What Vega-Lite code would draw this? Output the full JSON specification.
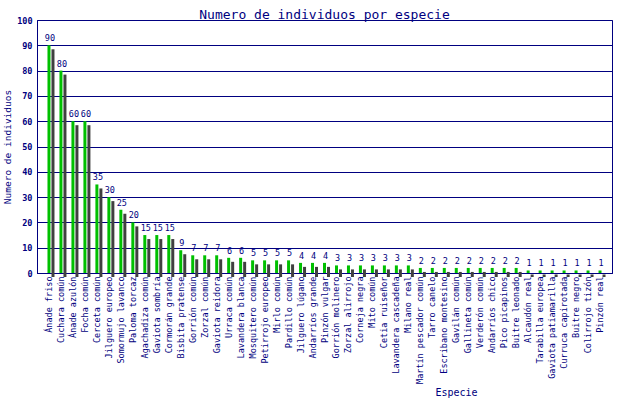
{
  "$schema": "https://vega.github.io/schema/vega-lite/v6.json",
  "width": 575,
  "height": 253,
  "autosize": {"type": "none"},
  "padding": {"left": 37, "top": 20, "right": 28, "bottom": 127},
  "background": "white",
  "title": {
    "text": "Numero de individuos por especie",
    "font": "DejaVu Sans Mono",
    "fontSize": 13,
    "fontWeight": "normal",
    "color": "#000080",
    "anchor": "middle",
    "offset": 0,
    "dy": 6
  },
  "data": {
    "values": [
      {"especie": "Ánade friso", "n": 90},
      {"especie": "Cuchara común", "n": 80},
      {"especie": "Ánade azulón", "n": 60},
      {"especie": "Focha común", "n": 60},
      {"especie": "Cerceta común", "n": 35},
      {"especie": "Jilguero europeo", "n": 30},
      {"especie": "Somormujo lavanco", "n": 25},
      {"especie": "Paloma torcaz", "n": 20},
      {"especie": "Agachadiza común", "n": 15},
      {"especie": "Gaviota sombría", "n": 15},
      {"especie": "Cormorán grande", "n": 15},
      {"especie": "Bisbita pratense", "n": 9},
      {"especie": "Gorrión común", "n": 7},
      {"especie": "Zorzal común", "n": 7},
      {"especie": "Gaviota reidora", "n": 7},
      {"especie": "Urraca común", "n": 6},
      {"especie": "Lavandera blanca", "n": 6},
      {"especie": "Mosquitero común", "n": 5},
      {"especie": "Petirrojo europeo", "n": 5},
      {"especie": "Mirlo común", "n": 5},
      {"especie": "Pardillo común", "n": 5},
      {"especie": "Jilguero lúgano", "n": 4},
      {"especie": "Andarríos grande", "n": 4},
      {"especie": "Pinzón vulgar", "n": 4},
      {"especie": "Gorrión molinero", "n": 3},
      {"especie": "Zorzal alirrojo", "n": 3},
      {"especie": "Corneja negra", "n": 3},
      {"especie": "Mito común", "n": 3},
      {"especie": "Cetia ruiseñor", "n": 3},
      {"especie": "Lavandera cascadeña", "n": 3},
      {"especie": "Milano real", "n": 3},
      {"especie": "Martín pescador común", "n": 2},
      {"especie": "Tarro canelo", "n": 2},
      {"especie": "Escribano montesino", "n": 2},
      {"especie": "Gavilán común", "n": 2},
      {"especie": "Gallineta común", "n": 2},
      {"especie": "Verderón común", "n": 2},
      {"especie": "Andarríos chico", "n": 2},
      {"especie": "Pico picapinos", "n": 2},
      {"especie": "Buitre leonado", "n": 2},
      {"especie": "Alcaudón real", "n": 1},
      {"especie": "Tarabilla europea", "n": 1},
      {"especie": "Gaviota patiamarilla", "n": 1},
      {"especie": "Curruca capirotada", "n": 1},
      {"especie": "Buitre negro", "n": 1},
      {"especie": "Colirrojo tizón", "n": 1},
      {"especie": "Pinzón real", "n": 1}
    ]
  },
  "encoding": {
    "x": {
      "field": "especie",
      "type": "nominal",
      "sort": null,
      "scale": {"paddingInner": 0, "paddingOuter": 0.5},
      "axis": {
        "title": "Especie",
        "titleFont": "DejaVu Sans Mono",
        "titleFontSize": 10,
        "titleFontWeight": "normal",
        "titleColor": "#000080",
        "titleX": 419,
        "titleY": 122,
        "titleAlign": "center",
        "titleBaseline": "alphabetic",
        "labelAngle": -90,
        "labelFont": "DejaVu Sans Mono",
        "labelFontSize": 8.5,
        "labelColor": "#000080",
        "labelPadding": 3,
        "labelOverlap": false,
        "labelLimit": 200,
        "ticks": false,
        "domainColor": "#000080",
        "grid": false
      }
    },
    "y": {
      "field": "n",
      "type": "quantitative",
      "scale": {"domain": [0, 100], "nice": false},
      "axis": {
        "title": "Numero de individuos",
        "titleFont": "DejaVu Sans Mono",
        "titleFontSize": 9.5,
        "titleFontWeight": "normal",
        "titleColor": "#000080",
        "titlePadding": 4,
        "values": [0, 10, 20, 30, 40, 50, 60, 70, 80, 90, 100],
        "labelFont": "DejaVu Sans Mono",
        "labelFontSize": 8.5,
        "labelFontWeight": "bold",
        "labelColor": "#000080",
        "labelPadding": 5,
        "ticks": false,
        "domainColor": "#000080",
        "grid": true,
        "gridColor": "#000080",
        "gridOpacity": 1,
        "gridWidth": 1
      }
    }
  },
  "layer": [
    {
      "mark": {"type": "bar", "color": "#404040", "width": 3, "xOffset": 4, "yOffset": 4}
    },
    {
      "mark": {"type": "bar", "color": "#00c000", "width": 3}
    },
    {
      "mark": {
        "type": "text",
        "font": "DejaVu Sans Mono",
        "fontSize": 8.5,
        "color": "#000080",
        "baseline": "alphabetic",
        "align": "center",
        "dx": 1,
        "dy": -4
      },
      "encoding": {"text": {"field": "n", "type": "quantitative"}}
    }
  ],
  "config": {
    "view": {"stroke": "#000080", "strokeWidth": 1}
  }
}
